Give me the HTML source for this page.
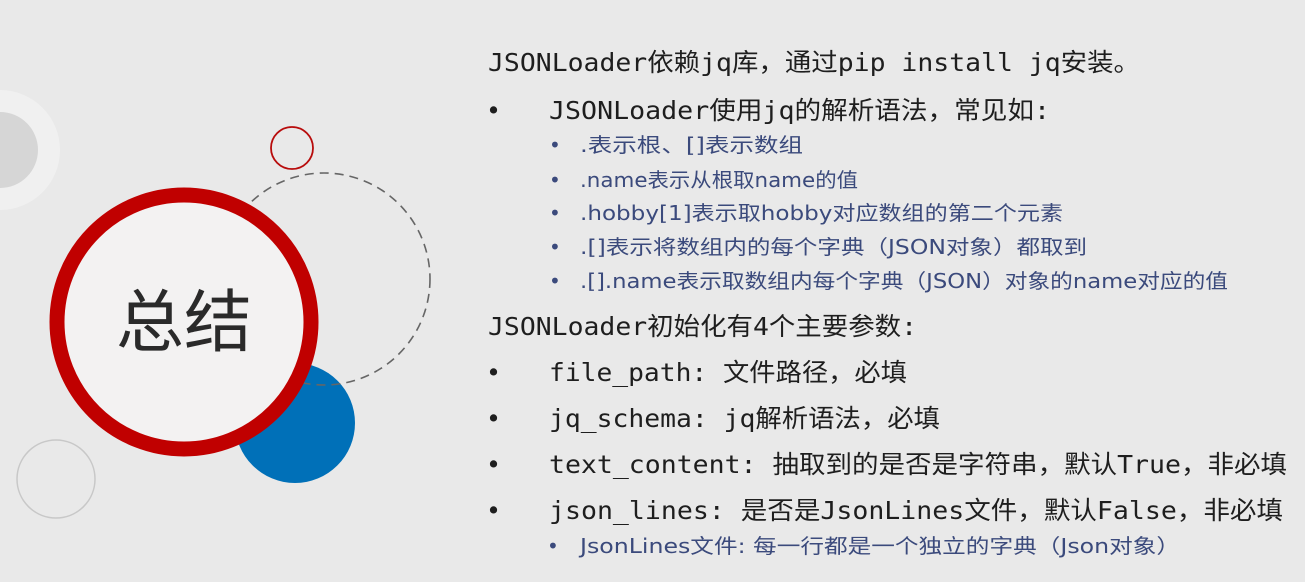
<!DOCTYPE html>
<html><head><meta charset="utf-8"><style>
html,body{margin:0;padding:0;background:#e9e9e9;}
svg{display:block;}
.m{font-family:"DejaVu Sans Mono","Liberation Mono","Noto Sans CJK SC",monospace;font-size:25px;fill:#1e1e1e;}
.s{font-family:"DejaVu Sans","Liberation Sans","Noto Sans CJK SC",sans-serif;font-size:20px;fill:#3b4a7c;}
</style></head><body>
<svg width="1305" height="582" viewBox="0 0 1305 582" xmlns="http://www.w3.org/2000/svg">
<rect width="1305" height="582" fill="#e9e9e9"/>
<circle cx="0" cy="150" r="60" fill="#f0f0f0"/>
<circle cx="0" cy="150" r="38" fill="#d6d6d6"/>
<circle cx="56" cy="479" r="39" fill="none" stroke="#c8c8c8" stroke-width="1.5"/>
<circle cx="292" cy="148" r="21" fill="none" stroke="#b80c0c" stroke-width="1.8"/>
<circle cx="295" cy="423" r="60" fill="#0070b8"/>
<circle cx="324" cy="279" r="106" fill="none" stroke="#666" stroke-width="1.6" stroke-dasharray="9 6"/>
<circle cx="184" cy="322" r="127" fill="#f3f2f2" stroke="#c00000" stroke-width="15"/>
<text x="184" y="346" text-anchor="middle" font-family="Noto Sans CJK SC,sans-serif" font-size="68" fill="#2a2a2a">总结</text>

<text class="m" x="488" y="71" textLength="652" lengthAdjust="spacingAndGlyphs">JSONLoader依赖jq库，通过pip install jq安装。</text>
<text class="m" x="486" y="119">•</text>
<text class="m" x="549" y="119" textLength="501" lengthAdjust="spacingAndGlyphs">JSONLoader使用jq的解析语法，常见如:</text>

<text class="s" x="549" y="152">•</text><text class="s" x="580" y="152" textLength="223" lengthAdjust="spacingAndGlyphs">.表示根、[]表示数组</text>
<text class="s" x="549" y="187">•</text><text class="s" x="580" y="187" textLength="278" lengthAdjust="spacingAndGlyphs">.name表示从根取name的值</text>
<text class="s" x="549" y="220">•</text><text class="s" x="580" y="220" textLength="483" lengthAdjust="spacingAndGlyphs">.hobby[1]表示取hobby对应数组的第二个元素</text>
<text class="s" x="549" y="254">•</text><text class="s" x="580" y="254" textLength="507" lengthAdjust="spacingAndGlyphs">.[]表示将数组内的每个字典（JSON对象）都取到</text>
<text class="s" x="549" y="288">•</text><text class="s" x="580" y="288" textLength="648" lengthAdjust="spacingAndGlyphs">.[].name表示取数组内每个字典（JSON）对象的name对应的值</text>

<text class="m" x="488" y="335" textLength="429" lengthAdjust="spacingAndGlyphs">JSONLoader初始化有4个主要参数:</text>
<text class="m" x="486" y="381">•</text><text class="m" x="549" y="381" textLength="358" lengthAdjust="spacingAndGlyphs">file_path: 文件路径，必填</text>
<text class="m" x="486" y="427">•</text><text class="m" x="549" y="427" textLength="391" lengthAdjust="spacingAndGlyphs">jq_schema: jq解析语法，必填</text>
<text class="m" x="486" y="473">•</text><text class="m" x="549" y="473" textLength="738" lengthAdjust="spacingAndGlyphs">text_content: 抽取到的是否是字符串，默认True，非必填</text>
<text class="m" x="486" y="519">•</text><text class="m" x="549" y="519" textLength="734" lengthAdjust="spacingAndGlyphs">json_lines: 是否是JsonLines文件，默认False，非必填</text>
<text class="s" x="547" y="553">•</text><text class="s" x="580" y="553" textLength="600" lengthAdjust="spacingAndGlyphs">JsonLines文件: 每一行都是一个独立的字典（Json对象）</text>
</svg>
</body></html>
